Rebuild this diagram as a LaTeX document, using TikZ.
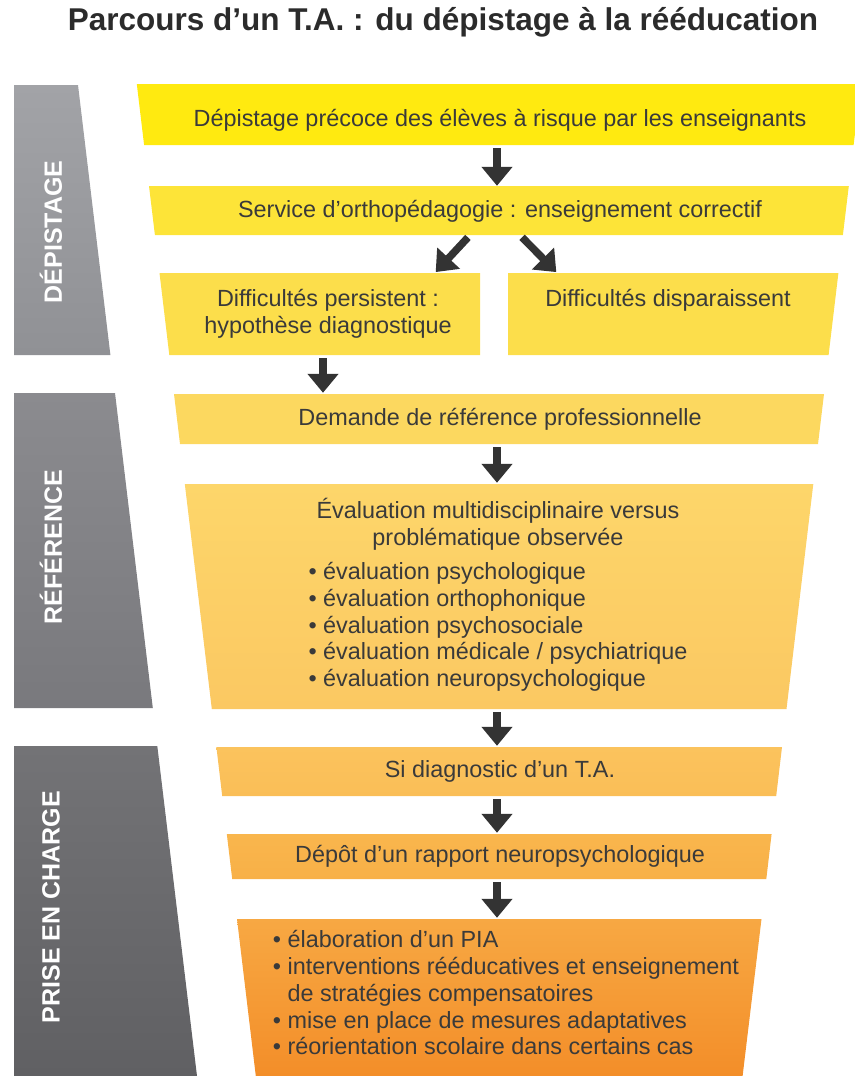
\documentclass[tikz,border=0pt]{standalone}
\usepackage{fontspec}
\setmainfont{Liberation Sans}
\usetikzlibrary{arrows.meta}

% palette
\definecolor{txtgrey}{HTML}{3A3A3A}
\definecolor{titlegrey}{HTML}{2B2B2B}
\definecolor{arrowgrey}{HTML}{333333}
\definecolor{barA}{HTML}{A2A3A7}
\definecolor{barB}{HTML}{909195}
\definecolor{barC}{HTML}{8B8B8F}
\definecolor{barD}{HTML}{79797D}
\definecolor{barE}{HTML}{737376}
\definecolor{barF}{HTML}{606063}
\definecolor{fillA}{HTML}{FFEA10}
\definecolor{fillB}{HTML}{FDE438}
\definecolor{fillC}{HTML}{FCDE4B}
\definecolor{fillD}{HTML}{FCD85F}
\definecolor{fillEt}{HTML}{FDD66A}
\definecolor{fillEb}{HTML}{FBC862}
\definecolor{fillFt}{HTML}{FBC35D}
\definecolor{fillFb}{HTML}{FABE57}
\definecolor{fillGt}{HTML}{F9B64D}
\definecolor{fillGb}{HTML}{F8B047}
\definecolor{fillHt}{HTML}{F7A843}
\definecolor{fillHb}{HTML}{F38E29}

\begin{document}
\begin{tikzpicture}[x=1pt,y=-1pt,
  boxtext/.style={inner sep=0pt, text=txtgrey,
    font=\fontsize{23.4}{26.7}\selectfont, align=center},
  arr/.style={draw=arrowgrey, line width=7.5pt,
    -{Triangle[width=30pt,length=19pt]}, shorten <=3pt, shorten >=1pt},
  sidelabel/.style={rotate=90, text=white, inner sep=0pt,
    font=\bfseries\fontsize{25}{30}\selectfont},
]
\useasboundingbox (0,0) rectangle (854,1076);

% title
\node[text=titlegrey, font=\bfseries\fontsize{31.5}{36}\selectfont, inner sep=0pt]
  (title) at (443,22) {Parcours d’un T.A. : du dépistage à la rééducation};

% phase bars on the left
\shade[top color=barA, bottom color=barB]
  (14,85) -- (78,85) -- (110.4,355) -- (14,355) -- cycle;
\shade[top color=barC, bottom color=barD]
  (14,393) -- (115,393) -- (152.8,708) -- (14,708) -- cycle;
\shade[top color=barE, bottom color=barF]
  (14,746) -- (157.3,746) -- (197,1076) -- (14,1076) -- cycle;

\node[sidelabel] (ph1) at (51,232) {DÉPISTAGE};
\node[sidelabel] (ph2) at (51,547) {RÉFÉRENCE};
\node[sidelabel] (ph3) at (51,907) {PRISE EN CHARGE};

% funnel boxes
\fill[fillA] (136.8,84) -- (861,84) -- (853.6,145) -- (144.1,145) -- cycle;
\fill[fillB] (149,186) -- (848.8,186) -- (842.9,235) -- (154.9,235) -- cycle;
\fill[fillC] (159.5,273) -- (480,273) -- (480,355) -- (169.3,355) -- cycle;
\fill[fillC] (508,273) -- (838.4,273) -- (828.6,355) -- (508,355) -- cycle;
\fill[fillD] (174,394) -- (824,394) -- (818,444) -- (180,444) -- cycle;
\shade[top color=fillEt, bottom color=fillEb]
  (184.8,484) -- (813.3,484) -- (786.5,709) -- (211.8,709) -- cycle;
\shade[top color=fillFt, bottom color=fillFb]
  (216.4,747) -- (782,747) -- (776.2,796) -- (222.2,796) -- cycle;
\shade[top color=fillGt, bottom color=fillGb]
  (226.8,834) -- (771.6,834) -- (766.3,879) -- (232.2,879) -- cycle;
\shade[top color=fillHt, bottom color=fillHb]
  (237,919) -- (761.5,919) -- (742.6,1076) -- (255.8,1076) -- cycle;

% box contents
\node[boxtext, minimum height=50pt] (b1) at (500,120)
  {Dépistage précoce des élèves à risque par les enseignants};
\node[boxtext, minimum height=48pt] (b2) at (500,211)
  {Service d’orthopédagogie : enseignement correctif};
\node[boxtext, minimum height=82pt] (b3a) at (328,314)
  {Difficultés persistent :\\hypothèse diagnostique};
\node[boxtext, minimum height=54pt] (b3b) at (668,300)
  {Difficultés disparaissent};
\node[boxtext, minimum height=50pt] (b4) at (500,419)
  {Demande de référence professionnelle};
\node[boxtext, minimum height=225pt] (b5) at (498,596.5)
  {Évaluation multidisciplinaire versus\\problématique observée\\[9.5pt]
   \begin{tabular}{@{}l@{}}
   • évaluation psychologique\\
   • évaluation orthophonique\\
   • évaluation psychosociale\\
   • évaluation médicale / psychiatrique\\
   • évaluation neuropsychologique
   \end{tabular}};
\node[boxtext, minimum height=49pt] (b6) at (500,771.5)
  {Si diagnostic d’un T.A.};
\node[boxtext, minimum height=45pt] (b7) at (500,856.5)
  {Dépôt d’un rapport neuropsychologique};
\node[boxtext, minimum height=154pt] (b8) at (506,996)
  {\begin{tabular}{@{}l@{}}
   • élaboration d’un PIA\\
   • interventions rééducatives et enseignement\\
   \phantom{• }de stratégies compensatoires\\
   • mise en place de mesures adaptatives\\
   • réorientation scolaire dans certains cas
   \end{tabular}};

% arrows
\draw[arr] ([xshift=-3pt]b1.south) -- ([xshift=-3pt]b1.south |- b2.north);
\draw[arr] ([xshift=-30pt]b2.south) -- ([xshift=107pt]b3a.north);
\draw[arr] ([xshift=20pt]b2.south) -- ([xshift=-111pt]b3b.north);
\draw[arr] ([xshift=-5pt]b3a.south) -- ([xshift=-5pt]b3a.south |- b4.north);
\draw[arr] ([xshift=-3pt]b4.south) -- ([xshift=-3pt]b4.south |- b5.north);
\draw[arr] ([xshift=-1pt]b5.south) -- ([xshift=-1pt]b5.south |- b6.north);
\draw[arr] ([xshift=-3pt]b6.south) -- ([xshift=-3pt]b6.south |- b7.north);
\draw[arr] ([xshift=-3pt]b7.south) -- ([xshift=-3pt]b7.south |- b8.north);
\end{tikzpicture}
\end{document}
